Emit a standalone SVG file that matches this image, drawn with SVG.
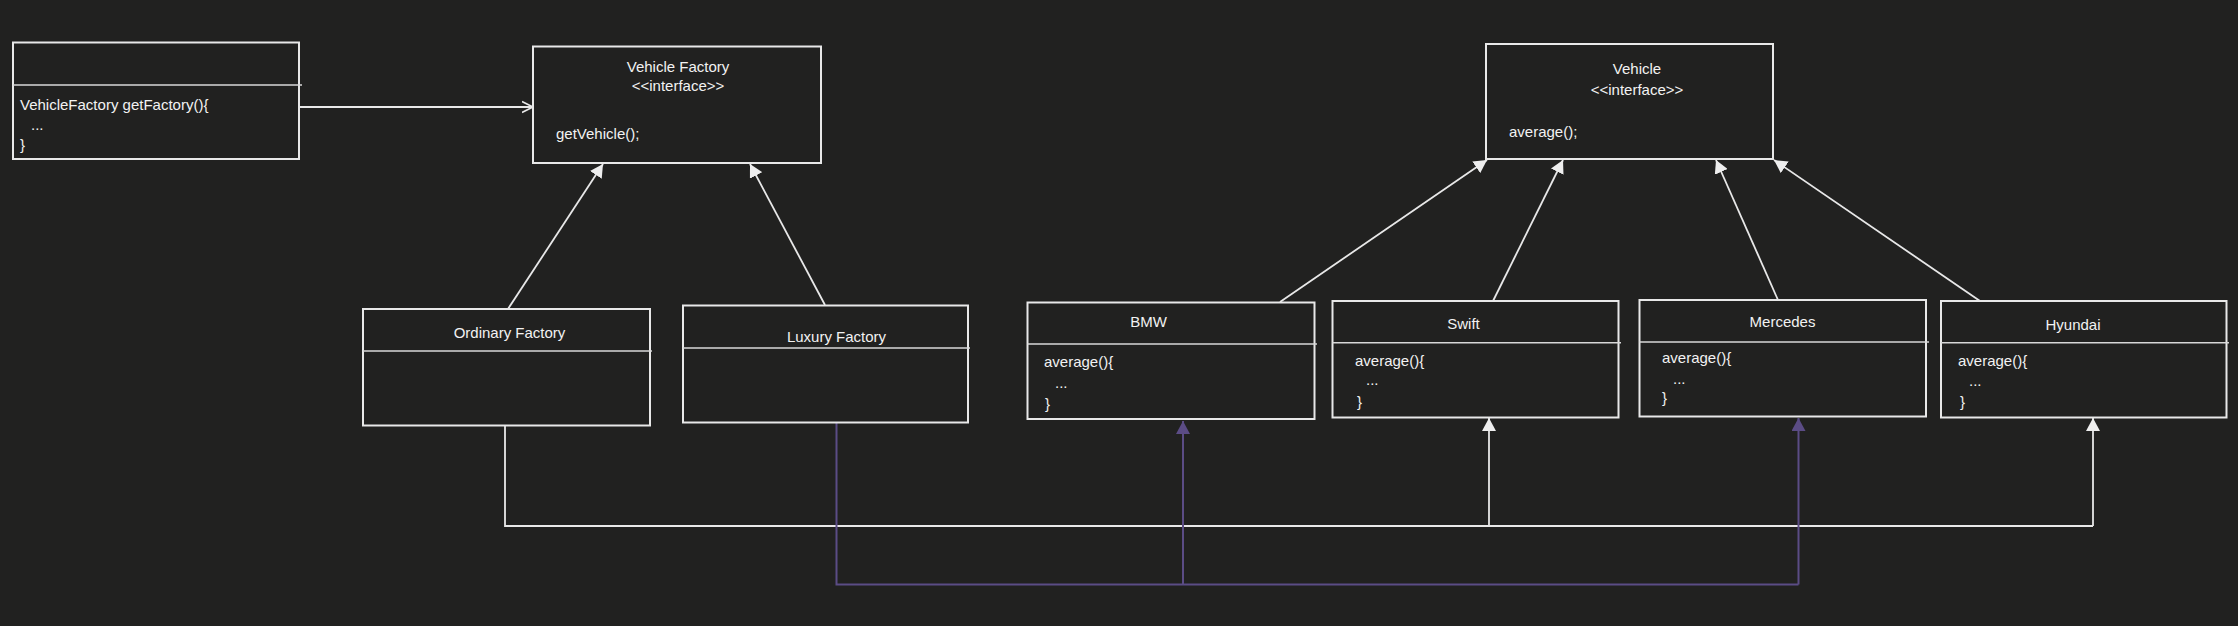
<svg xmlns="http://www.w3.org/2000/svg" width="2238" height="626" viewBox="0 0 2238 626">
<style>
.bg{fill:#212120}
.box{fill:#212120;stroke:#e8e8e8;stroke-width:2}
.div{stroke:#d8d8d8;stroke-width:1.6;fill:none}
.t{font-family:"Liberation Sans",Arial,sans-serif;font-size:15px;fill:#f2f2f2}
.c{text-anchor:middle}
.w{stroke:#e8e8e8;stroke-width:1.8;fill:none}
.p{stroke:#5b4c85;stroke-width:2;fill:none}
</style>
<defs>
<marker id="triW" markerUnits="userSpaceOnUse" markerWidth="14" markerHeight="14" refX="13" refY="7" orient="auto">
<path d="M0,0 L13,7 L0,14 z" fill="#eeeeee"/>
</marker>
<marker id="triP" markerUnits="userSpaceOnUse" markerWidth="14" markerHeight="14" refX="13" refY="7" orient="auto">
<path d="M0,0 L13,7 L0,14 z" fill="#5b4c85"/>
</marker>
<marker id="open" markerUnits="userSpaceOnUse" markerWidth="14" markerHeight="14" refX="11" refY="7" orient="auto">
<path d="M0,1.5 L11,7 L0,12.5" fill="none" stroke="#e8e8e8" stroke-width="1.6"/>
</marker>
</defs>
<rect class="bg" x="0" y="0" width="2238" height="626"/>

<g id="connectors">
<line class="w" x1="299" y1="107" x2="533" y2="107" marker-end="url(#open)"/>
<line class="w" x1="508" y1="309" x2="603" y2="164" marker-end="url(#triW)"/>
<line class="w" x1="825" y1="305" x2="750" y2="164" marker-end="url(#triW)"/>
<line class="w" x1="1280" y1="302" x2="1487" y2="160" marker-end="url(#triW)"/>
<line class="w" x1="1493" y1="301" x2="1563" y2="160" marker-end="url(#triW)"/>
<line class="w" x1="1778" y1="300" x2="1716" y2="160" marker-end="url(#triW)"/>
<line class="w" x1="1980" y1="301" x2="1774" y2="160" marker-end="url(#triW)"/>
<polyline class="w" points="505,425 505,526 2093,526"/>
<line class="w" x1="1489" y1="526" x2="1489" y2="418" marker-end="url(#triW)"/>
<line class="w" x1="2093" y1="526" x2="2093" y2="418" marker-end="url(#triW)"/>
<polyline class="p" points="836.5,422 836.5,584.5 1798.5,584.5"/>
<line class="p" x1="1183" y1="584.5" x2="1183" y2="421" marker-end="url(#triP)"/>
<line class="p" x1="1798.5" y1="584.5" x2="1798.5" y2="418" marker-end="url(#triP)"/>
</g>

<g id="client">
<rect class="box" x="13" y="42.5" width="286" height="116.5"/>
<line class="div" x1="13" y1="85" x2="302" y2="85"/>
<text class="t" x="20" y="110">VehicleFactory getFactory(){</text>
<text class="t" x="31" y="130">...</text>
<text class="t" x="20" y="150">}</text>
</g>

<g id="vehicle-factory">
<rect class="box" x="533" y="46.5" width="288" height="116.5"/>
<text class="t c" x="678" y="71.5">Vehicle Factory</text>
<text class="t c" x="678" y="91">&lt;&lt;interface&gt;&gt;</text>
<text class="t" x="556" y="139">getVehicle();</text>
</g>

<g id="vehicle">
<rect class="box" x="1486" y="44" width="287" height="115"/>
<text class="t c" x="1637" y="74">Vehicle</text>
<text class="t c" x="1637" y="95">&lt;&lt;interface&gt;&gt;</text>
<text class="t" x="1509" y="137">average();</text>
</g>

<g id="ordinary-factory">
<rect class="box" x="363" y="309" width="287" height="116.5"/>
<line class="div" x1="363" y1="351" x2="652" y2="351"/>
<text class="t c" x="509.5" y="337.5">Ordinary Factory</text>
</g>

<g id="luxury-factory">
<rect class="box" x="683" y="305.5" width="285" height="117"/>
<line class="div" x1="683" y1="348" x2="970" y2="348"/>
<text class="t c" x="836.5" y="341.5">Luxury Factory</text>
</g>

<g id="bmw">
<rect class="box" x="1027.5" y="302.5" width="287" height="116.5"/>
<line class="div" x1="1027.5" y1="344" x2="1317" y2="344"/>
<text class="t c" x="1148.5" y="327">BMW</text>
<text class="t" x="1044" y="367">average(){</text>
<text class="t" x="1055" y="388">...</text>
<text class="t" x="1045" y="409">}</text>
</g>

<g id="swift">
<rect class="box" x="1332.5" y="301" width="286" height="116.5"/>
<line class="div" x1="1332.5" y1="342.7" x2="1621" y2="342.7"/>
<text class="t c" x="1463.5" y="329">Swift</text>
<text class="t" x="1355" y="366">average(){</text>
<text class="t" x="1366" y="385">...</text>
<text class="t" x="1357" y="406.5">}</text>
</g>

<g id="mercedes">
<rect class="box" x="1639.5" y="300" width="286.5" height="116.5"/>
<line class="div" x1="1639.5" y1="342" x2="1929" y2="342"/>
<text class="t c" x="1782.5" y="326.5">Mercedes</text>
<text class="t" x="1662" y="363">average(){</text>
<text class="t" x="1673" y="383.5">...</text>
<text class="t" x="1662" y="403">}</text>
</g>

<g id="hyundai">
<rect class="box" x="1941" y="301" width="285.5" height="116.5"/>
<line class="div" x1="1941" y1="342.7" x2="2229" y2="342.7"/>
<text class="t c" x="2073" y="330">Hyundai</text>
<text class="t" x="1958" y="366">average(){</text>
<text class="t" x="1969" y="386">...</text>
<text class="t" x="1960" y="406.5">}</text>
</g>
</svg>
